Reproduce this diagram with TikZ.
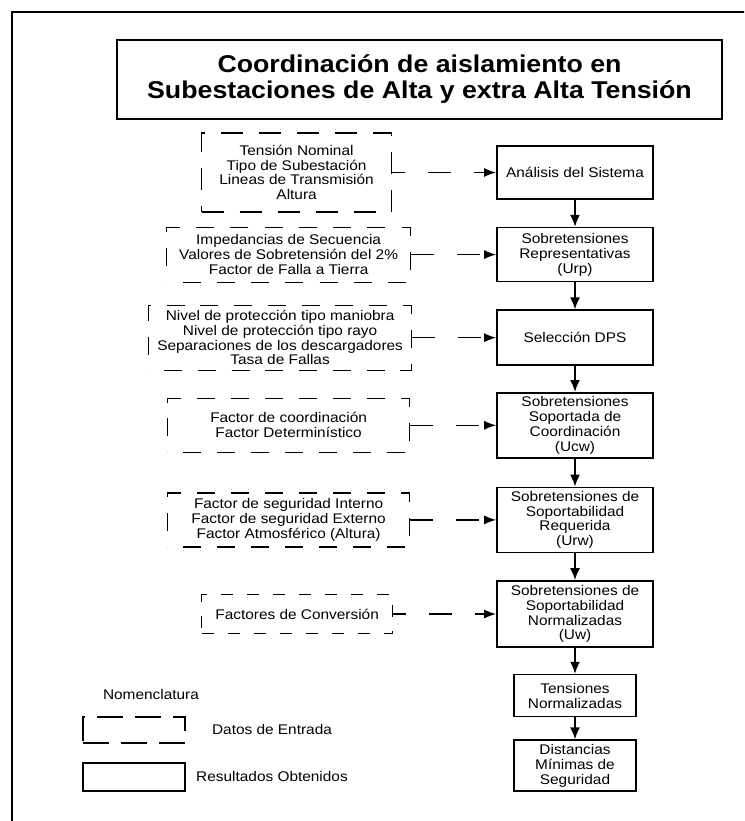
\documentclass[tikz,border=0pt]{standalone}
\usepackage{fontspec}
\setmainfont{Liberation Sans}[FakeStretch=1.1]
\usetikzlibrary{arrows.meta, positioning, decorations}

\begin{document}
\begin{tikzpicture}[x=1pt, y=-1pt, font=\fontsize{14}{14.8}\selectfont,
    titlebox/.style={rectangle, draw, line width=1.4pt, minimum width=605pt,
                     minimum height=79pt, align=center,
                     font=\fontsize{24.3}{26}\selectfont\bfseries},
    result/.style={rectangle, draw, line width=1.6pt, minimum width=156pt,
                   align=center, inner sep=2pt},
    entrada/.style={rectangle, draw, line width=1.2pt, dash pattern=on 18pt off 15pt,
                    dash expand off, align=center, inner sep=2pt},
    flow/.style={-{Latex[length=12pt, width=10pt]}, line width=1.8pt},
    feed/.style={-{Latex[length=12pt, width=9pt]}, line width=1.4pt,
                 dash pattern=on 23pt off 23pt}
]
\useasboundingbox (0,0) rectangle (744,821);
\clip (0,0) rectangle (744,821);
% marco
\draw[line width=2.5pt] (12,840) -- (12,12) -- (760,12);

\node[titlebox] (titulo) at (419.5,79.5) {Coordinación de aislamiento en\\Subestaciones de Alta y extra Alta Tensión};

% resultados obtenidos
\node[result, minimum height=53pt] (ana) at (575,172.5) {Análisis del Sistema};
\node[result, minimum height=54pt, below=27pt of ana] (urp) {Sobretensiones\\Representativas\\(Urp)};
\node[result, minimum height=55pt, below=27pt of urp] (dps) {Selección DPS};
\node[result, minimum height=65pt, below=26pt of dps] (ucw) {Sobretensiones\\Soportada de\\Coordinación\\(Ucw)};
\node[result, minimum height=65pt, below=28pt of ucw] (urw) {Sobretensiones de\\Soportabilidad\\Requerida\\(Urw)};
\node[result, minimum height=66pt, below=27pt of urw] (uw) {Sobretensiones de\\Soportabilidad\\Normalizadas\\(Uw)};
\node[result, minimum width=122pt, minimum height=42pt, below=26pt of uw] (tn) {Tensiones\\Normalizadas};
\node[result, minimum width=122pt, minimum height=51pt, below=22pt of tn] (dms) {Distancias\\Mínimas de\\Seguridad};

% datos de entrada
\node[entrada, dash pattern=on 22pt off 16pt, minimum width=190pt, minimum height=79pt, left=104pt of ana] (sis) {Tensión Nominal\\Tipo de Subestación\\Lineas de Transmisión\\Altura};
\node[entrada, minimum width=244pt, minimum height=55pt, left=85pt of urp] (sec) {Impedancias de Secuencia\\Valores de Sobretensión del 2\%\\Factor de Falla a Tierra};
\node[entrada, minimum width=263pt, minimum height=65pt, left=84pt of dps] (prot) {Nivel de protección tipo maniobra\\Nivel de protección tipo rayo\\Separaciones de los descargadores\\Tasa de Fallas};
\node[entrada, minimum width=242pt, minimum height=54pt, left=86pt of ucw] (coord) {Factor de coordinación\\Factor Determinístico};
\node[entrada, minimum width=242pt, minimum height=54pt, left=86pt of urw] (seg) {Factor de seguridad Interno\\Factor de seguridad Externo\\Factor Atmosférico (Altura)};
\node[entrada, dash pattern=on 12pt off 14pt, minimum width=191pt, minimum height=39pt, left=103pt of uw] (conv) {Factores de Conversión};

\draw[feed, line width=1.8pt, dash phase=10pt] (sis) -- (ana);
\draw[feed] (sec) -- (urp);
\draw[feed] (prot) -- (dps);
\draw[feed] (coord) -- (ucw);
\draw[feed] (seg) -- (urw);
\draw[feed, line width=1.8pt, dash phase=10pt] (conv) -- (uw);

\draw[flow] (ana) -- (urp);
\draw[flow] (urp) -- (dps);
\draw[flow] (dps) -- (ucw);
\draw[flow] (ucw) -- (urw);
\draw[flow] (urw) -- (uw);
\draw[flow] (uw) -- (tn);
\draw[flow] (tn) -- (dms);

% nomenclatura
\node (nom) at (151,694) {Nomenclatura};
\node[entrada, dash pattern=on 26pt off 12pt, minimum width=102pt, minimum height=26pt] (legin) at (134,730) {};
\node[result, line width=1.4pt, minimum width=102pt, minimum height=28pt] (legout) at (134,777) {};
\node (legintxt) at (272,729) {Datos de Entrada};
\node (legouttxt) at (272,776) {Resultados Obtenidos};
\end{tikzpicture}
\end{document}
